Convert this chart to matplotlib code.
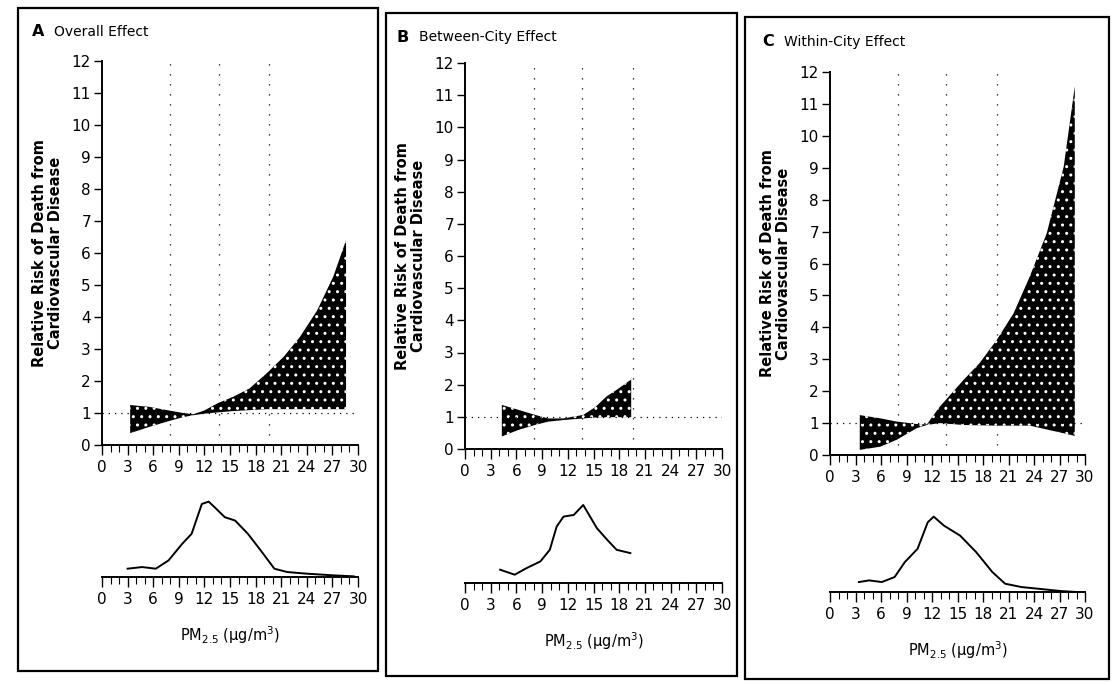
import numpy as np
import matplotlib
matplotlib.use("Agg")
import matplotlib.pyplot as plt
from matplotlib.patches import Rectangle
from matplotlib.ticker import MultipleLocator

plt.rcParams['font.family'] = ['DejaVu Sans']
plt.rcParams['hatch.linewidth'] = 1.0

# relative risk bands (x = PM2.5, lower / upper envelope of the curves)
xA = [3.3, 5.6, 7.6, 9.5, 10.7, 12.0, 13.6, 15.4, 17.3, 19.3, 21.3, 23.2, 25.2, 27.1, 28.6]
upA = [1.25, 1.19, 1.09, 1.0, 0.96, 1.08, 1.31, 1.51, 1.77, 2.24, 2.76, 3.38, 4.2, 5.26, 6.4]
loA = [0.37, 0.57, 0.73, 0.87, 0.93, 0.98, 1.02, 1.06, 1.09, 1.12, 1.12, 1.12, 1.12, 1.12, 1.12]

xB = [4.3, 6.2, 8.2, 9.7, 11.5, 13.8, 15.2, 16.5, 17.7, 19.4]
upB = [1.37, 1.22, 1.06, 0.95, 0.95, 1.06, 1.3, 1.63, 1.84, 2.16]
loB = [0.39, 0.59, 0.75, 0.85, 0.9, 0.95, 0.98, 0.99, 0.99, 0.99]

xC = [3.5, 5.9, 7.8, 10.2, 11.4, 12.9, 15.7, 17.6, 19.6, 21.6, 23.5, 25.5, 27.5, 28.8]
upC = [1.25, 1.15, 1.05, 0.97, 0.96, 1.51, 2.35, 2.88, 3.6, 4.44, 5.59, 6.95, 9.04, 11.55]
loC = [0.16, 0.26, 0.47, 0.84, 0.94, 1.0, 0.94, 0.93, 0.92, 0.92, 0.92, 0.8, 0.68, 0.6]

# PM2.5 distributions (arbitrary units)
densA_x = [3.0, 4.7, 6.3, 7.8, 9.4, 10.5, 11.7, 12.5, 13.2, 14.4, 15.6, 17.1, 18.6, 20.2, 21.7, 24.0, 27.1, 29.5]
densA_y = [25, 30, 25, 50, 100, 130, 220, 227, 210, 180, 170, 130, 80, 25, 15, 10, 5, 2]
densB_x = [4.1, 5.8, 7.2, 8.8, 9.9, 10.7, 11.5, 12.7, 13.8, 14.6, 15.4, 16.6, 17.7, 19.3]
densB_y = [40, 25, 45, 65, 100, 170, 200, 205, 235, 200, 165, 130, 100, 90]
densC_x = [3.4, 4.6, 6.1, 7.6, 8.8, 10.3, 11.5, 12.2, 13.4, 15.3, 17.2, 19.1, 20.6, 22.5, 25.2, 27.1, 29.0]
densC_y = [30, 35, 30, 45, 90, 130, 210, 227, 200, 170, 120, 60, 25, 15, 8, 3, 0]

guide_x = [8, 13.7, 19.6]
letters = ['A', 'B', 'C']
titles = ['Overall Effect', 'Between-City Effect', 'Within-City Effect']
xticks = list(range(0, 31, 3))
yticks = list(range(0, 13))

W, H = 1113, 685
fig = plt.figure(figsize=(W / 100, H / 100), dpi=100)


def box(l, t, r, b):
    return [l / W, 1 - b / H, (r - l) / W, (b - t) / H]


def style_x(ax):
    ax.set_xlim(0, 30)
    ax.xaxis.set_minor_locator(MultipleLocator(1))
    ax.tick_params(axis='x', which='major', length=7, width=1, pad=4, labelsize=11)
    ax.tick_params(axis='x', which='minor', length=5, width=0.8)
    ax.set_xticks(xticks)
    ax.spines['bottom'].set_linewidth(1.4)


panels = [
    (xA, loA, upA, densA_x, densA_y, (102, 61, 358, 445), (102, 577), (18, 8, 378, 671), (32, 32)),
    (xB, loB, upB, densB_x, densB_y, (465, 63, 722, 449), (465, 583), (386, 13, 737, 676), (397, 37)),
    (xC, loC, upC, densC_x, densC_y, (830, 72, 1085, 455), (830, 592), (745, 17, 1109, 679), (762, 42)),
]

for i, (bx, lo, up, dx, dy, mb, db, pb, tp) in enumerate(panels):
    # panel frame
    fig.add_artist(Rectangle((pb[0] / W, 1 - pb[3] / H), (pb[2] - pb[0]) / W, (pb[3] - pb[1]) / H,
                             transform=fig.transFigure, fill=False, lw=1.6, ec='black'))
    fig.text(tp[0] / W, 1 - tp[1] / H, letters[i], fontsize=11.5, fontweight='bold', va='center', ha='left')
    fig.text((tp[0] + 22) / W, 1 - tp[1] / H, titles[i], fontsize=10, va='center', ha='left')

    ax = fig.add_axes(box(*mb))
    for g in guide_x:
        ax.plot([g, g], [0, 12], color='black', lw=0.9, ls=(0, (1, 7)))
    ax.plot([0, 30], [1, 1], color='black', lw=0.9, ls=(0, (1, 4)))
    ax.fill_between(bx, lo, up, facecolor='black', edgecolor='white', hatch='..', lw=0)
    ax.set_ylim(0, 12)
    ax.set_yticks(yticks)
    ax.tick_params(axis='y', length=6, width=1, pad=2, labelsize=11)
    style_x(ax)
    for s in ['top', 'right']:
        ax.spines[s].set_visible(False)
    ax.spines['left'].set_linewidth(1.4)
    ax.set_ylabel('Relative Risk of Death from\nCardiovascular Disease', fontsize=10.5,
                  fontweight='bold', labelpad=6, linespacing=1.1)

    axd = fig.add_axes(box(db[0], db[1] - 83, mb[2], db[1]))
    axd.plot(dx, dy, color='black', lw=1.4)
    axd.set_ylim(0, 250)
    axd.set_yticks([])
    style_x(axd)
    for s in ['top', 'right', 'left']:
        axd.spines[s].set_visible(False)
    axd.set_xlabel('PM$_{2.5}$ (µg/m$^3$)', fontsize=10.5, labelpad=12)
    axd.patch.set_alpha(0)
    ax.patch.set_alpha(0)

fig.savefig('out.png', dpi=100, facecolor='white')
